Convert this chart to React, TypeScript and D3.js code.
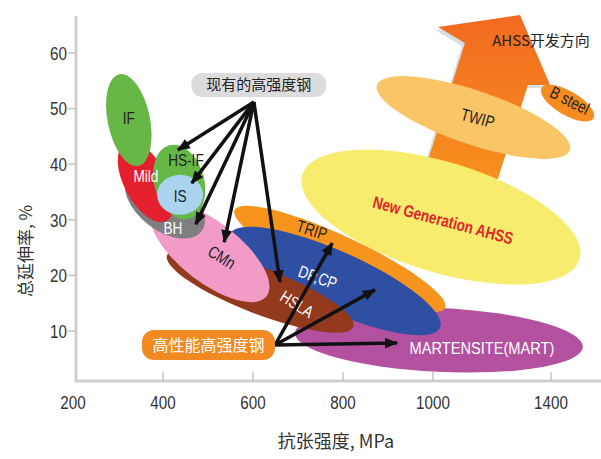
import React from "react";
import * as d3 from "d3";

// ---- data (tensile strength MPa, total elongation %) ----
const steelGrades = ["TWIP", "B steel", "New Generation AHSS", "MART", "TRIP", "DP,CP", "HSLA", "CMn", "BH", "Mild", "HS-IF", "IF", "IS"];
const centerStrength = [1137, 1456, 1027, 1020, 793, 782, 616, 504, 404, 362, 436, 324, 438];
const centerElongation = [48.4, 51.0, 30.5, 8.4, 22.95, 19.0, 17.2, 24.2, 33.0, 36.8, 36.8, 47.95, 34.5];
const axisEndStrength = [1464, 1544, 1497, 1508, 1041, 1024, 823, 630, 485, 316, 414, 303, 489];
const axisEndElongation = [42.55, 48.27, 22.9, 7.12, 14.14, 10.58, 10.76, 16.24, 27.9, 43.8, 43.4, 56.2, 34.5];
const halfWidthElongation = [4.86, 2.16, 9.9, 5.75, 4.14, 5.4, 4.14, 5.4, 4.86, 3.9, 4.5, 3.8, 3.6];

const gradeLabels = ["IF", "Mild", "HS-IF", "IS", "BH", "CMn", "HSLA", "DP,CP", "TRIP", "New Generation AHSS", "MARTENSITE(MART)", "TWIP", "B steel", "AHSS开发方向"];
const labelStrength = [324, 362, 451, 438, 422, 531, 698, 744, 731, 1034, 1166, 1152, 1464, 1366];
const labelElongation = [48.3, 37.9, 40.8, 34.3, 28.5, 23.3, 14.86, 19.7, 28.2, 29.96, 6.94, 48.3, 51.5, 62.16];
const labelAngle = [0, 0, 0, 0, 0, 32, 32, 20, 18, 15, 0, 15, 27, 0];

// development-direction arrow outline
const devArrowStrength = [1017, 1295, 1397, 1322, 1197, 961, 1108];
const devArrowElongation = [64.68, 66.83, 54.24, 54.24, 33.56, 33.56, 61.8];

// callouts
const calloutTexts = ["现有的高强度钢", "高性能高强度钢"];
const calloutStrength = [613, 501];
const calloutElongation = [54.24, 7.48];
const calloutOriginStrength = [602, 649];
const calloutOriginElongation = [51.2, 7.48];
const pointerGroup = [0, 0, 0, 0, 0, 1, 1, 1];
const pointerStrength = [433, 464, 473, 536, 660, 776, 871, 920];
const pointerElongation = [42.55, 36.6, 29.2, 26.0, 18.8, 25.8, 17.4, 7.84];

const xTicks = [200, 400, 600, 800, 1000, 1400];
const yTicks = [10, 20, 30, 40, 50, 60];

const fillOf: Record<string, string> = {
  "TWIP": "#f9c566", "B steel": "#f68b1f", "New Generation AHSS": "#f8ec6e", "MART": "#b3509f",
  "TRIP": "#f7941d", "DP,CP": "#2f4fa2", "HSLA": "#93391d", "CMn": "#f29bc7", "BH": "#7f7f7f",
  "Mild": "#e5202e", "HS-IF": "#67b746", "IF": "#67b746", "IS": "#a9d3ef",
};
const labelColor: Record<string, string> = {
  "Mild": "#fff", "BH": "#fff", "HSLA": "#fff", "DP,CP": "#fff", "MARTENSITE(MART)": "#fff",
  "New Generation AHSS": "#e0262a",
};

const SANS = "'Liberation Sans', Arial, sans-serif";
const CJK = "'Noto Sans CJK SC', 'Noto Sans', sans-serif";

export default function App() {
  const W = 601, H = 459;
  const x = d3.scaleLinear().domain([200, 1000, 1400]).range([73, 433, 551]);
  const y = d3.scaleLinear().domain([10, 60]).range([331, 53]);
  const pxPerPct = y(0) - y(1);
  const axisY = 381, axisX = 76;

  const arrowPts = devArrowStrength.map((s, i) => [x(s), y(devArrowElongation[i])] as [number, number]);
  const arrowPath = d3.line()(arrowPts) + "Z";
  const shadowPath = d3.line()(arrowPts.map(([a, b]) => [a - 3, b + 3] as [number, number])) + "Z";

  return (
    <svg width={W} height={H} style={{ position: "absolute", left: 0, top: 0, background: "#fff" }}>
      <defs>
        <linearGradient id="devg" x1="0" y1="0" x2="0" y2="1">
          <stop offset="0" stopColor="#f26a21" />
          <stop offset="1" stopColor="#f7941d" />
        </linearGradient>
        <marker id="ah" viewBox="0 0 12 10" refX="11" refY="5" markerWidth="13" markerHeight="11" markerUnits="userSpaceOnUse" orient="auto">
          <path d="M0,0 L12,5 L0,10 Z" fill="#111" />
        </marker>
      </defs>

      {/* axes */}
      <line x1={axisX} x2={axisX} y1={16} y2={axisY} stroke="#cfcfcf" strokeWidth={3} />
      <line x1={axisX - 1.5} x2={W} y1={axisY} y2={axisY} stroke="#cfcfcf" strokeWidth={3} />
      {yTicks.map((t) => (
        <g key={"y" + t}>
          <line x1={68} x2={axisX} y1={y(t)} y2={y(t)} stroke="#c4c4c4" strokeWidth={1.5} />
          <text transform={`translate(67,${y(t)}) scale(0.8,1)`} dy="0.36em" textAnchor="end" fontFamily={SANS} fontSize={19} fill="#333">{t}</text>
        </g>
      ))}
      {xTicks.map((t) => (
        <g key={"x" + t}>
          {t !== 200 && <line x1={x(t)} x2={x(t)} y1={372} y2={axisY} stroke="#c4c4c4" strokeWidth={1.5} />}
          <text transform={`translate(${x(t)},409) scale(0.8,1)`} textAnchor="middle" fontFamily={SANS} fontSize={19} fill="#333">{t}</text>
        </g>
      ))}
      <text transform={`translate(26,251) rotate(-90)`} textAnchor="middle" dy="0.35em" fontFamily={CJK} fontSize={17} fill="#333">总延伸率, %</text>
      <text x={336} y={448} textAnchor="middle" fontFamily={CJK} fontSize={18} fill="#333">抗张强度, MPa</text>

      {/* development arrow */}
      <path d={shadowPath} fill="#c9d2dc" opacity={0.7} />
      <path d={arrowPath} fill="url(#devg)" />

      {/* steel grade ellipses */}
      {steelGrades.map((g, i) => {
        const cx = x(centerStrength[i]), cy = y(centerElongation[i]);
        const ex = x(axisEndStrength[i]), ey = y(axisEndElongation[i]);
        const rx = Math.hypot(ex - cx, ey - cy);
        const ang = (Math.atan2(ey - cy, ex - cx) * 180) / Math.PI;
        const ry = halfWidthElongation[i] * pxPerPct;
        return <ellipse key={g} cx={cx} cy={cy} rx={rx} ry={ry} transform={`rotate(${ang} ${cx} ${cy})`} fill={fillOf[g]} />;
      })}

      {/* grade labels */}
      {gradeLabels.map((l, i) => {
        const lx = x(labelStrength[i]), ly = y(labelElongation[i]);
        const isNew = l === "New Generation AHSS";
        const isCjk = l === "AHSS开发方向";
        const isMart = l === "MARTENSITE(MART)";
        const sx = isCjk ? 1 : isMart ? 0.86 : 0.8;
        return (
          <text key={l} transform={`translate(${lx},${ly}) rotate(${labelAngle[i]}) scale(${sx},1)`} textAnchor="middle" dy="0.36em"
            fontFamily={isCjk ? CJK : SANS} fontWeight={isNew ? "bold" : "normal"}
            fontSize={isCjk ? 15 : 17} fill={labelColor[l] || "#222"}>{l}</text>
        );
      })}

      {/* pointers */}
      {pointerStrength.map((s, i) => {
        const gI = pointerGroup[i];
        return (
          <line key={"p" + i} x1={x(calloutOriginStrength[gI])} y1={y(calloutOriginElongation[gI])} x2={x(s)} y2={y(pointerElongation[i])}
            stroke="#111" strokeWidth={3.5} markerEnd="url(#ah)" />
        );
      })}

      {/* callout boxes */}
      {calloutTexts.map((t, i) => {
        const cx = x(calloutStrength[i]), cy = y(calloutElongation[i]);
        const w = i === 0 ? 135 : 133, h = i === 0 ? 24 : 30;
        return (
          <g key={t}>
            <rect x={cx - w / 2} y={cy - h / 2} width={w} height={h} rx={i === 0 ? 11 : 12} fill={i === 0 ? "#dcdcde" : "#f18a21"} />
            <text x={cx} y={cy} dy="0.36em" textAnchor="middle" fontFamily={CJK} fontSize={i === 0 ? 15 : 16} fill={i === 0 ? "#222" : "#fff"}>{t}</text>
          </g>
        );
      })}
    </svg>
  );
}
